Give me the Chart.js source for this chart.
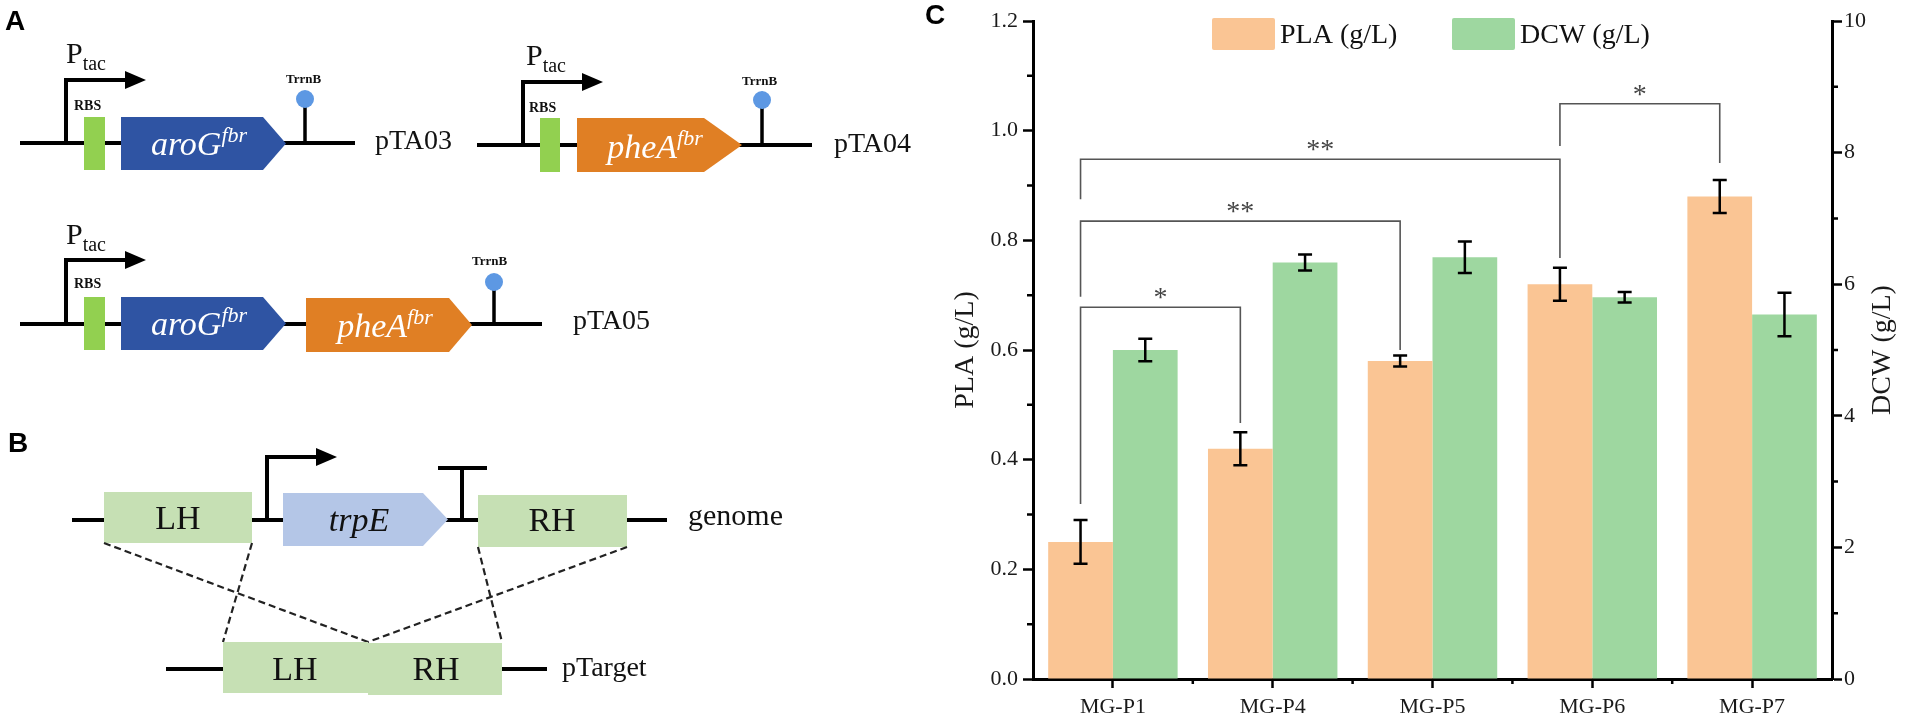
<!DOCTYPE html>
<html>
<head>
<meta charset="utf-8">
<script src="https://cdn.jsdelivr.net/npm/chart.js@4.4.1/dist/chart.umd.min.js"></script>
<style>
html, body { margin: 0; padding: 0; background: #fff; width: 1906px; height: 718px; overflow: hidden; }
#wrap { position: absolute; left: 900px; top: 0; width: 1006px; height: 718px; }
#fig { position: absolute; left: 0; top: 0; width: 1906px; height: 718px; pointer-events: none; }
.serif { font-family: "Liberation Serif", "Times New Roman", serif; }
.sans { font-family: "Liberation Sans", Arial, sans-serif; font-weight: bold; }
</style>
</head>
<body>
<div id="wrap"><canvas id="bars"></canvas></div>

<svg id="fig" width="1906" height="718" viewBox="0 0 1906 718">
  <!-- panel letters -->
  <text class="sans" x="5" y="30" font-size="28">A</text>
  <text class="sans" x="8" y="452" font-size="28">B</text>
  <text class="sans" x="925" y="24" font-size="28">C</text>

  <!-- A: pTA03 -->
  <g class="serif" fill="#111">
    <line x1="20" y1="143" x2="355" y2="143" stroke="#000" stroke-width="4"/>
    <polyline points="66,143 66,80 128,80" fill="none" stroke="#000" stroke-width="4"/>
    <polygon points="125,71 146,80 125,89" fill="#000"/>
    <text x="66" y="63" font-size="30">P<tspan font-size="20" dy="7">tac</tspan></text>
    <text x="74" y="110" font-size="14" font-weight="bold">RBS</text>
    <rect x="84" y="117" width="21" height="53" fill="#92d050"/>
    <polygon points="121,117 263,117 286,143.5 263,170 121,170" fill="#2f54a3"/>
    <text x="199" y="155" font-size="34" font-style="italic" fill="#fff" text-anchor="middle">aroG<tspan font-size="22" dy="-13">fbr</tspan></text>
    <line x1="305" y1="143" x2="305" y2="100" stroke="#000" stroke-width="3.5"/>
    <circle cx="305" cy="99" r="9" fill="#5d98e3"/>
    <text x="286" y="83" font-size="13" font-weight="bold">TrrnB</text>
    <text x="375" y="149" font-size="28">pTA03</text>
  </g>

  <!-- A: pTA04 -->
  <g class="serif" fill="#111">
    <line x1="477" y1="145" x2="812" y2="145" stroke="#000" stroke-width="4"/>
    <polyline points="523,145 523,82 585,82" fill="none" stroke="#000" stroke-width="4"/>
    <polygon points="582,73 603,82 582,91" fill="#000"/>
    <text x="526" y="65" font-size="30">P<tspan font-size="20" dy="7">tac</tspan></text>
    <text x="529" y="112" font-size="14" font-weight="bold">RBS</text>
    <rect x="540" y="118" width="20" height="54" fill="#92d050"/>
    <polygon points="577,118 704,118 742,145 704,172 577,172" fill="#e07f24"/>
    <text x="655" y="158" font-size="34" font-style="italic" fill="#fff" text-anchor="middle">pheA<tspan font-size="22" dy="-13">fbr</tspan></text>
    <line x1="762" y1="145" x2="762" y2="101" stroke="#000" stroke-width="3.5"/>
    <circle cx="762" cy="100" r="9" fill="#5d98e3"/>
    <text x="742" y="85" font-size="13" font-weight="bold">TrrnB</text>
    <text x="834" y="152" font-size="28">pTA04</text>
  </g>

  <!-- A: pTA05 -->
  <g class="serif" fill="#111">
    <line x1="20" y1="324" x2="542" y2="324" stroke="#000" stroke-width="4"/>
    <polyline points="66,324 66,260 128,260" fill="none" stroke="#000" stroke-width="4"/>
    <polygon points="125,251 146,260 125,269" fill="#000"/>
    <text x="66" y="244" font-size="30">P<tspan font-size="20" dy="7">tac</tspan></text>
    <text x="74" y="288" font-size="14" font-weight="bold">RBS</text>
    <rect x="84" y="297" width="21" height="53" fill="#92d050"/>
    <polygon points="121,297 263,297 286,323.5 263,350 121,350" fill="#2f54a3"/>
    <text x="199" y="335" font-size="34" font-style="italic" fill="#fff" text-anchor="middle">aroG<tspan font-size="22" dy="-13">fbr</tspan></text>
    <polygon points="306,298 449,298 472,325 449,352 306,352" fill="#e07f24"/>
    <text x="385" y="337" font-size="34" font-style="italic" fill="#fff" text-anchor="middle">pheA<tspan font-size="22" dy="-13">fbr</tspan></text>
    <line x1="494" y1="324" x2="494" y2="283" stroke="#000" stroke-width="3.5"/>
    <circle cx="494" cy="282" r="9" fill="#5d98e3"/>
    <text x="472" y="265" font-size="13" font-weight="bold">TrrnB</text>
    <text x="573" y="329" font-size="28">pTA05</text>
  </g>

  <!-- B -->
  <g class="serif" fill="#111">
    <line x1="72" y1="520" x2="667" y2="520" stroke="#000" stroke-width="4"/>
    <rect x="104" y="492" width="148" height="51" fill="#c6e0b4"/>
    <text x="178" y="529" font-size="34" text-anchor="middle">LH</text>
    <polyline points="267,520 267,457 318,457" fill="none" stroke="#000" stroke-width="4"/>
    <polygon points="316,448 337,457 316,466" fill="#000"/>
    <polygon points="283,493 423,493 448,519.5 423,546 283,546" fill="#b4c6e7"/>
    <text x="359" y="531" font-size="34" font-style="italic" text-anchor="middle">trpE</text>
    <line x1="462" y1="520" x2="462" y2="468" stroke="#000" stroke-width="4"/>
    <line x1="438" y1="468" x2="487" y2="468" stroke="#000" stroke-width="4"/>
    <rect x="478" y="495" width="149" height="52" fill="#c6e0b4"/>
    <text x="552" y="531" font-size="34" text-anchor="middle">RH</text>
    <text x="688" y="525" font-size="30">genome</text>

    <g stroke="#222" stroke-width="2.2" stroke-dasharray="7 4" fill="none">
      <line x1="104" y1="543" x2="368" y2="642"/>
      <line x1="252" y1="543" x2="223" y2="642"/>
      <line x1="478" y1="547" x2="502" y2="642"/>
      <line x1="627" y1="547" x2="368" y2="642"/>
    </g>

    <line x1="166" y1="669" x2="547" y2="669" stroke="#000" stroke-width="4"/>
    <rect x="223" y="642" width="145" height="51" fill="#c6e0b4"/>
    <rect x="368" y="643" width="134" height="52" fill="#c6e0b4"/>
    <text x="295" y="680" font-size="34" text-anchor="middle">LH</text>
    <text x="436" y="680" font-size="34" text-anchor="middle">RH</text>
    <text x="562" y="676" font-size="28">pTarget</text>
  </g>
</svg>

<script>
// strains and measured values
const strains = ['MG-P1', 'MG-P4', 'MG-P5', 'MG-P6', 'MG-P7'];
const pla = [0.25, 0.42, 0.58, 0.72, 0.88];
const plaErr = [0.04, 0.03, 0.01, 0.03, 0.03];
const dcw = [5.0, 6.33, 6.41, 5.8, 5.54];
const dcwErr = [0.17, 0.12, 0.24, 0.08, 0.33];

// tick values
const plaTicks = [0, 0.2, 0.4, 0.6, 0.8, 1.0, 1.2];
const plaMinor = [0.1, 0.3, 0.5, 0.7, 0.9, 1.1];
const dcwTicks = [0, 2, 4, 6, 8, 10];
const dcwMinor = [1, 3, 5, 7, 9];

// significance brackets (PLA bars), heights in g/L
const sigFrom = [0, 0, 0, 3];
const sigTo = [1, 2, 3, 4];
const sigLevel = [0.678, 0.835, 0.948, 1.049];
const sigLeftEnd = [0.319, 0.697, 0.875, 0.972];
const sigRightEnd = [0.467, 0.60, 0.768, 0.941];
const sigLabel = ['*', '**', '**', '*'];

const serif = '"Liberation Serif", "Times New Roman", serif';

const errorBars = {
    id: 'errorBars',
    afterDatasetsDraw(chart) {
        const ctx = chart.ctx;
        ctx.save();
        ctx.strokeStyle = '#000';
        ctx.lineWidth = 2.5;
        chart.data.datasets.forEach((ds, i) => {
            const scale = chart.scales[ds.yAxisID];
            chart.getDatasetMeta(i).data.forEach((bar, j) => {
                const top = scale.getPixelForValue(ds.data[j] + ds.errors[j]);
                const bot = scale.getPixelForValue(ds.data[j] - ds.errors[j]);
                ctx.beginPath();
                ctx.moveTo(bar.x, top); ctx.lineTo(bar.x, bot);
                ctx.moveTo(bar.x - 7, top); ctx.lineTo(bar.x + 7, top);
                ctx.moveTo(bar.x - 7, bot); ctx.lineTo(bar.x + 7, bot);
                ctx.stroke();
            });
        });
        ctx.restore();
    }
};

const brackets = {
    id: 'brackets',
    afterDatasetsDraw(chart) {
        const ctx = chart.ctx;
        const y = chart.scales.y;
        const bars = chart.getDatasetMeta(0).data;
        ctx.save();
        ctx.strokeStyle = '#555';
        ctx.lineWidth = 1.6;
        ctx.fillStyle = '#444';
        ctx.font = '28px ' + serif;
        ctx.textAlign = 'center';
        ctx.textBaseline = 'alphabetic';
        sigLevel.forEach((lv, k) => {
            const x1 = bars[sigFrom[k]].x;
            const x2 = bars[sigTo[k]].x;
            const yl = y.getPixelForValue(lv);
            ctx.beginPath();
            ctx.moveTo(x1, y.getPixelForValue(sigLeftEnd[k]));
            ctx.lineTo(x1, yl);
            ctx.lineTo(x2, yl);
            ctx.lineTo(x2, y.getPixelForValue(sigRightEnd[k]));
            ctx.stroke();
            ctx.fillText(sigLabel[k], (x1 + x2) / 2, yl - 1);
        });
        ctx.restore();
    }
};

const minorTicks = {
    id: 'minorTicks',
    afterDraw(chart) {
        const {ctx, chartArea: a, scales} = chart;
        ctx.save();
        ctx.strokeStyle = '#000';
        ctx.lineWidth = 2.5;
        ctx.beginPath();
        plaMinor.forEach(v => {
            const py = scales.y.getPixelForValue(v);
            ctx.moveTo(a.left, py); ctx.lineTo(a.left - 6, py);
        });
        dcwMinor.forEach(v => {
            const py = scales.y1.getPixelForValue(v);
            ctx.moveTo(a.right, py); ctx.lineTo(a.right + 6, py);
        });
        for (let i = 0; i < strains.length - 1; i++) {
            const px = (scales.x.getPixelForValue(i) + scales.x.getPixelForValue(i + 1)) / 2;
            ctx.moveTo(px, a.bottom); ctx.lineTo(px, a.bottom + 5);
        }
        ctx.stroke();
        ctx.restore();
    }
};

// legend inside the plot, and the right axis title reading bottom to top
const topLegend = {
    id: 'topLegend',
    afterDraw(chart) {
        const {ctx, chartArea: a} = chart;
        ctx.save();
        ctx.font = '28px ' + serif;
        ctx.textBaseline = 'middle';
        ctx.textAlign = 'left';
        chart.data.datasets.forEach((ds, i) => {
            const x = a.left + 179 + i * 240;
            ctx.fillStyle = ds.backgroundColor;
            ctx.beginPath();
            ctx.roundRect(x, 18, 63, 32, 2);
            ctx.fill();
            ctx.fillStyle = '#111';
            ctx.fillText(ds.label, x + 68, 36);
        });
        ctx.fillStyle = '#1a1a1a';
        ctx.textAlign = 'center';
        ctx.translate(chart.width - 23, (a.top + a.bottom) / 2);
        ctx.rotate(-Math.PI / 2);
        ctx.fillText(chart.data.datasets[1].label, 0, 0);
        ctx.restore();
    }
};

const axisLine = { display: true, width: 3, color: '#000' };
const tickFont = { family: serif, size: 22 };

new Chart(document.getElementById('bars'), {
    type: 'bar',
    data: {
        labels: strains,
        datasets: [
            {
                label: 'PLA (g/L)',
                data: pla,
                errors: plaErr,
                yAxisID: 'y',
                backgroundColor: 'rgb(250,197,148)'
            },
            {
                label: 'DCW (g/L)',
                data: dcw,
                errors: dcwErr,
                yAxisID: 'y1',
                backgroundColor: 'rgb(158,215,160)'
            }
        ]
    },
    options: {
        responsive: true,
        maintainAspectRatio: false,
        animation: false,
        layout: { padding: { top: 21, left: 0, right: 0, bottom: 0 } },
        datasets: { bar: { barPercentage: 1.0, categoryPercentage: 0.81 } },
        plugins: { legend: { display: false }, tooltip: { enabled: false } },
        scales: {
            x: {
                offset: true,
                grid: { display: true, drawOnChartArea: false, offset: false, tickLength: 9, tickWidth: 2.5, color: '#000', tickColor: '#000' },
                border: axisLine,
                ticks: { font: tickFont, color: '#1a1a1a', padding: 6, maxRotation: 0 },
                afterFit: s => { s.height = 39; }
            },
            y: {
                position: 'left',
                min: 0,
                max: 1.2,
                afterBuildTicks: s => { s.ticks = plaTicks.map(v => ({ value: v })); },
                grid: { display: true, drawOnChartArea: false, tickLength: 10, tickWidth: 2.5, color: '#000', tickColor: '#000' },
                border: axisLine,
                ticks: { font: tickFont, color: '#1a1a1a', padding: 5, callback: v => Number(v).toFixed(1) },
                title: { display: true, text: 'PLA (g/L)', font: { family: serif, size: 28 }, color: '#1a1a1a', padding: { top: 49, bottom: 0 } },
                afterFit: s => { s.width = 133; }
            },
            y1: {
                position: 'right',
                min: 0,
                max: 10,
                afterBuildTicks: s => { s.ticks = dcwTicks.map(v => ({ value: v })); },
                grid: { display: true, drawOnChartArea: false, tickLength: 10, tickWidth: 2.5, color: '#000', tickColor: '#000' },
                border: axisLine,
                ticks: { font: tickFont, color: '#1a1a1a', padding: 2 },
                title: { display: false },
                afterFit: s => { s.width = 74; }
            }
        }
    },
    plugins: [errorBars, brackets, minorTicks, topLegend]
});
</script>
</body>
</html>
